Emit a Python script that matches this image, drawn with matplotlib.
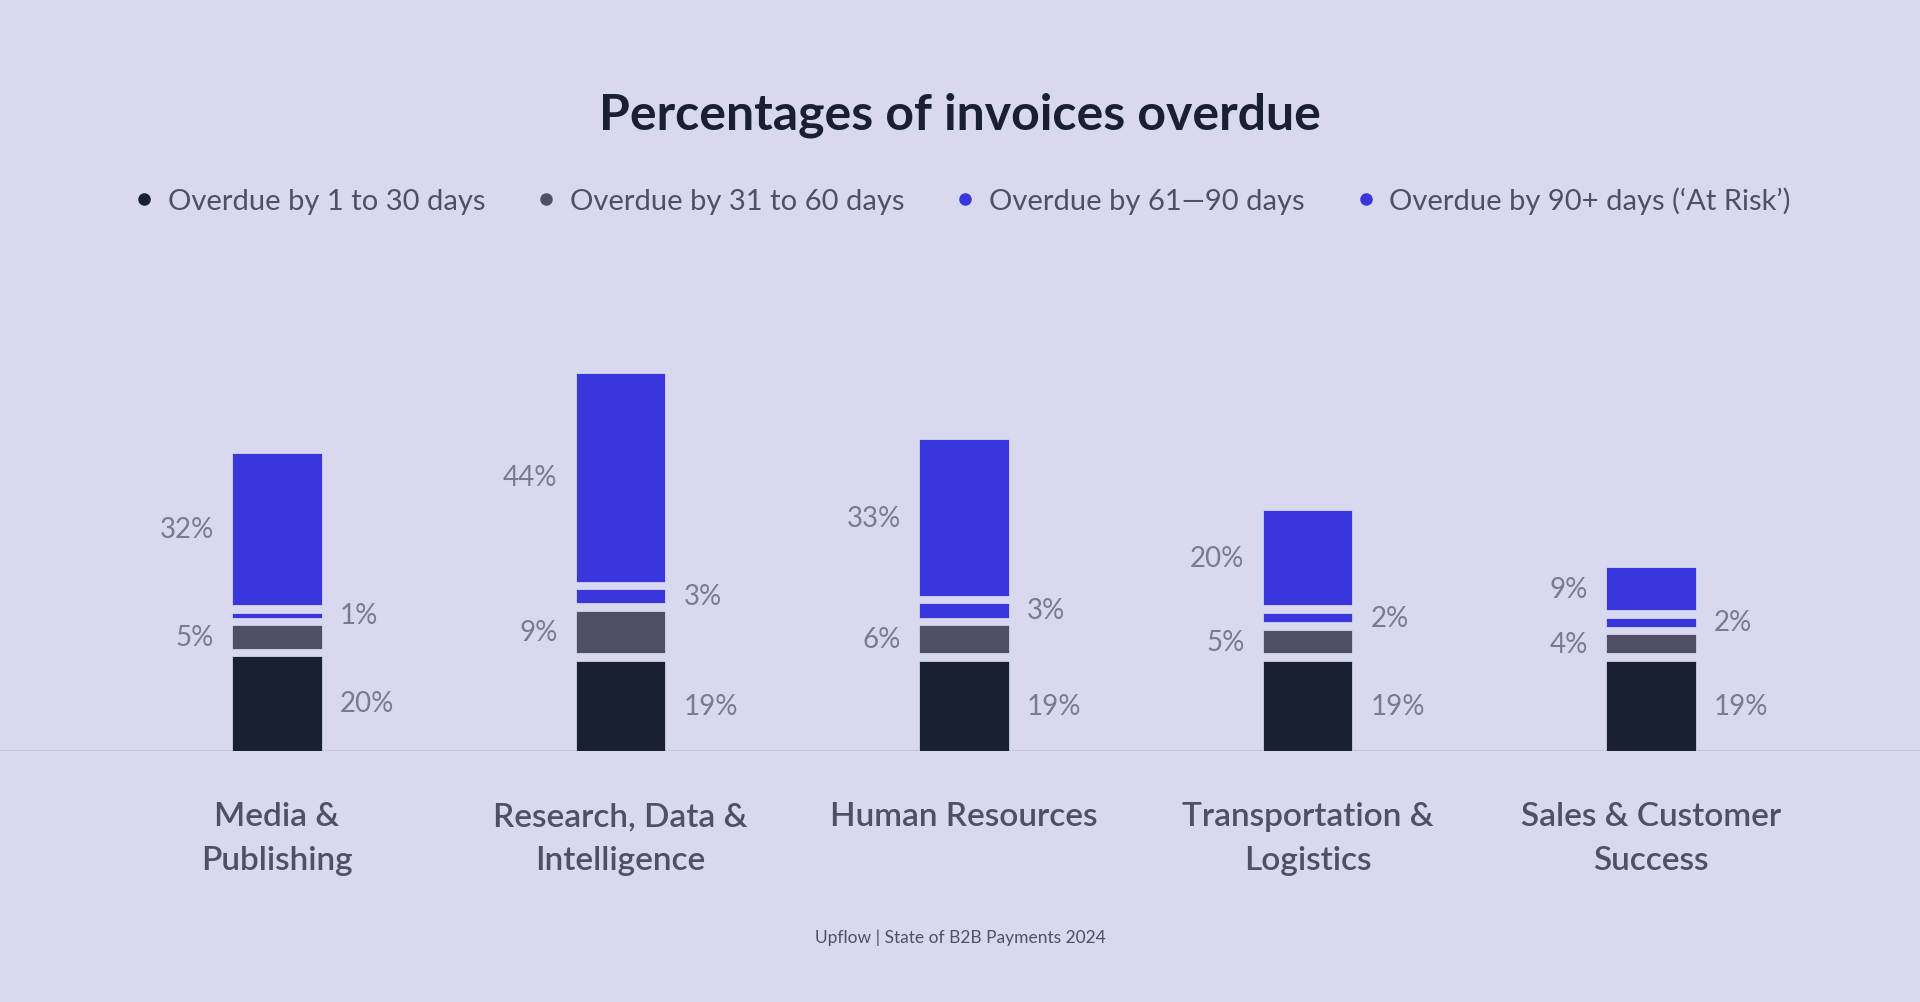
import matplotlib
matplotlib.use("Agg")
import matplotlib.pyplot as plt
from matplotlib.lines import Line2D

plt.rcParams['font.family'] = ['Lato', 'DejaVu Sans']

categories = ["Media &\nPublishing", "Research, Data &\nIntelligence", "Human Resources",
              "Transportation &\nLogistics", "Sales & Customer\nSuccess"]
days_1_30 = [20, 19, 19, 19, 19]
days_31_60 = [5, 9, 6, 5, 4]
days_61_90 = [1, 3, 3, 2, 2]
days_90_plus = [32, 44, 33, 20, 9]

series_names = ["Overdue by 1 to 30 days", "Overdue by 31 to 60 days",
                "Overdue by 61\u201490 days", "Overdue by 90+ days (\u2018At Risk\u2019)"]
colors = ["#182031", "#4f4f66", "#3936db", "#3936db"]
# which side of the bar each series' label sits on
label_side = ["right", "left", "right", "left"]

bg = "#d8d8ee"
label_col = "#7a7a90"
text_col = "#4f4f66"
gap = 1.55  # visual gap between stacked segments, in % units

fig = plt.figure(figsize=(19.2, 10.03), dpi=100, facecolor=bg)
ax = fig.add_axes([0, 251 / 1003, 1, 500 / 1003])
ax.set_facecolor(bg)

x = list(range(len(categories)))
width = 0.262
bottoms = [0] * len(categories)
for s, vals in enumerate([days_1_30, days_31_60, days_61_90, days_90_plus]):
    bars = ax.bar(x, vals, width, bottom=bottoms, color=colors[s],
                  edgecolor="#e2e2f4", linewidth=0.5, zorder=3)
    for i, b in enumerate(bars):
        yc = b.get_y() + b.get_height() / 2
        if label_side[s] == "right":
            ax.annotate(f"{vals[i]}%", (b.get_x() + b.get_width(), yc), xytext=(13, 0),
                        textcoords="offset points", ha="left", va="center",
                        fontsize=20, color=label_col)
        else:
            ax.annotate(f"{vals[i]}%", (b.get_x(), yc), xytext=(-13, 0),
                        textcoords="offset points", ha="right", va="center",
                        fontsize=20, color=label_col)
    bottoms = [bt + v + gap for bt, v in zip(bottoms, vals)]

ax.set_xlim(-277 / 343.5, (1920 - 277) / 343.5)
ax.set_ylim(0, 500 / 4.75)
ax.axhline(0, color="#c6c6e0", linewidth=2, zorder=2)
for sp in ax.spines.values():
    sp.set_visible(False)
ax.set_yticks([])
ax.set_xticks(x)
ax.set_xticklabels(categories, fontsize=24, color=text_col, fontweight="semibold",
                   linespacing=1.6)
ax.tick_params(axis="x", length=0, pad=36)

fig.text(0.5, 1 - 115 / 1003, "Percentages of invoices overdue", ha="center", va="center",
         fontsize=36, fontweight="bold", color="#1b1f33")

handles = [Line2D([], [], marker="o", linestyle="", markersize=8, color=c) for c in colors]
leg = fig.legend(handles, series_names, loc="center", bbox_to_anchor=(0.5, 1 - 201 / 1003),
                 ncol=4, frameon=False, fontsize=21, handletextpad=0.3, columnspacing=1.6,
                 handlelength=1)
for t in leg.get_texts():
    t.set_color(text_col)

fig.text(0.5, 1 - 938 / 1003, "Upflow | State of B2B Payments 2024", ha="center",
         va="center", fontsize=12.5, color=text_col)

fig.savefig("out.png", dpi=100, facecolor=bg)
